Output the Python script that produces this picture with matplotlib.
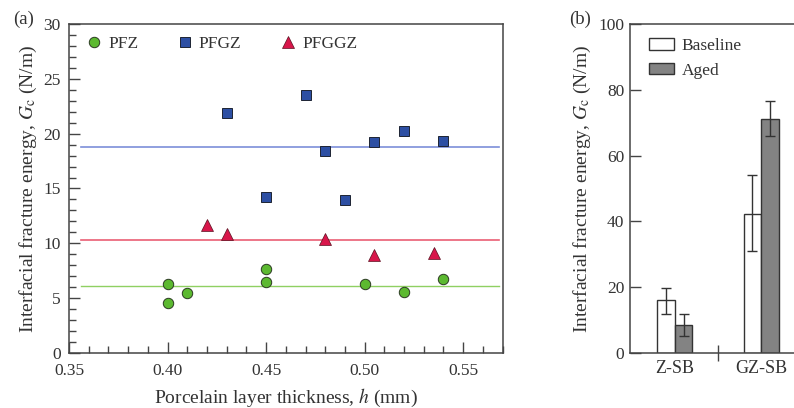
import matplotlib
matplotlib.use("Agg")
import matplotlib.pyplot as plt
from matplotlib.ticker import MultipleLocator

# panel (a): interfacial fracture energy vs porcelain thickness
pfz_h = [0.40, 0.40, 0.41, 0.45, 0.45, 0.50, 0.52, 0.54]
pfz_g = [6.3, 4.55, 5.5, 7.7, 6.5, 6.3, 5.6, 6.75]
pfgz_h = [0.43, 0.45, 0.47, 0.48, 0.49, 0.505, 0.52, 0.54]
pfgz_g = [21.9, 14.25, 23.5, 18.4, 13.95, 19.2, 20.25, 19.35]
pfggz_h = [0.42, 0.43, 0.48, 0.505, 0.535]
pfggz_g = [11.7, 10.85, 10.4, 8.9, 9.1]
mean_pfz, mean_pfgz, mean_pfggz = 6.15, 18.8, 10.3

# panel (b): baseline vs aged
groups = ["Z-SB", "GZ-SB"]
baseline = [16.0, 42.3]
baseline_err_lo = [4.0, 11.3]
baseline_err_hi = [3.8, 11.7]
aged = [8.5, 71.2]
aged_err_lo = [3.3, 5.2]
aged_err_hi = [3.3, 5.3]

plt.rcParams["font.family"] = ["Liberation Serif", "DejaVu Serif"]
plt.rcParams["mathtext.fontset"] = "stix"
TXT = "#333333"
plt.rcParams["text.color"] = TXT
plt.rcParams["axes.labelcolor"] = TXT
plt.rcParams["xtick.color"] = "#444444"
plt.rcParams["ytick.color"] = "#444444"
plt.rcParams["xtick.labelcolor"] = TXT
plt.rcParams["ytick.labelcolor"] = TXT
plt.rcParams["axes.edgecolor"] = "#444444"

fig = plt.figure(figsize=(7.94, 4.08), dpi=100)
ax = fig.add_axes([0.0869, 0.1348, 0.5466, 0.8064])
bx = fig.add_axes([0.7935, 0.1348, 0.2100, 0.8064])

# ---- (a)
xl = (0.356, 0.568)
ax.plot(xl, [mean_pfgz] * 2, color="#7d8fd9", lw=1.2, zorder=1)
ax.plot(xl, [mean_pfggz] * 2, color="#ea5f74", lw=1.2, zorder=1)
ax.plot(xl, [mean_pfz] * 2, color="#8fd062", lw=1.0, zorder=1)
ax.plot(pfz_h, pfz_g, "o", ms=7.5, mfc="#5cb930", mec="#2b3a22", mew=0.7, ls="none", label="PFZ", zorder=3)
ax.plot(pfgz_h, pfgz_g, "s", ms=7.5, mfc="#2d4fa3", mec="#1d2333", mew=0.7, ls="none", label="PFGZ", zorder=3)
ax.plot(pfggz_h, pfggz_g, "^", ms=8, mfc="#d8164a", mec="#5a1020", mew=0.5, ls="none", label="PFGGZ", zorder=3)
ax.set_xlim(0.35, 0.5702)
ax.set_ylim(0, 30)
ax.xaxis.set_major_locator(MultipleLocator(0.05))
ax.xaxis.set_minor_locator(MultipleLocator(0.01))
ax.yaxis.set_major_locator(MultipleLocator(5))
ax.yaxis.set_minor_locator(MultipleLocator(1))
ax.xaxis.set_major_formatter(lambda v, p: f"{v:.2f}")
ax.tick_params(which="both", direction="in", top=False, right=False, labelsize=12.5)
ax.tick_params(which="major", length=8, width=1)
ax.tick_params(which="minor", length=5, width=1)
ax.tick_params(axis="x", pad=7)
ax.tick_params(axis="y", pad=6)
ax.set_xlabel("Porcelain layer thickness, $h$ (mm)", fontsize=14, labelpad=6)
ax.set_ylabel("Interfacial fracture energy, $G_{\\mathrm{c}}$ (N/m)", fontsize=14, labelpad=3)
ax.legend(loc="upper left", ncol=3, frameon=False, fontsize=12.5, handletextpad=0.3,
          columnspacing=2.2, borderaxespad=0.3, handlelength=1.0, bbox_to_anchor=(0.01, 1.0))
for s in ax.spines.values():
    s.set_linewidth(1.1)
fig.text(0.016, 0.953, "(a)", fontsize=13.5, va="center")

# ---- (b)
w = 0.205
xs = list(range(len(groups)))
bx.bar([x - w / 2 for x in xs], baseline, w, color="white", edgecolor="#333333", lw=1,
       yerr=[baseline_err_lo, baseline_err_hi], capsize=3.6, error_kw=dict(ecolor="#333333", elinewidth=1, capthick=1),
       label="Baseline")
bx.bar([x + w / 2 for x in xs], aged, w, color="#838383", edgecolor="#333333", lw=1,
       yerr=[aged_err_lo, aged_err_hi], capsize=3.6, error_kw=dict(ecolor="#333333", elinewidth=1, capthick=1),
       label="Aged")
bx.set_xlim(-0.515, 1.41)
bx.set_ylim(0, 100)
bx.set_xticks(xs)
bx.set_xticklabels(groups)
bx.set_xticks([0.5], minor=True)
bx.yaxis.set_major_locator(MultipleLocator(20))
bx.tick_params(axis="x", which="major", length=0, labelsize=13, pad=5)
bx.tick_params(axis="x", which="minor", direction="inout", length=12, width=1)
bx.tick_params(axis="y", direction="in", length=8, width=1, labelsize=12.5, pad=4)
bx.spines["right"].set_visible(False)
for s in bx.spines.values():
    s.set_linewidth(1.1)
bx.set_ylabel("Interfacial fracture energy, $G_{\\mathrm{c}}$ (N/m)", fontsize=14, labelpad=4)
bx.legend(loc="upper left", frameon=False, fontsize=12.5, handlelength=1.45, handleheight=0.65,
          handletextpad=0.45, labelspacing=0.5, borderaxespad=0.4, bbox_to_anchor=(0.03, 1.0))
fig.text(0.717, 0.953, "(b)", fontsize=13.5, va="center")

fig.savefig("out.png", dpi=100)
